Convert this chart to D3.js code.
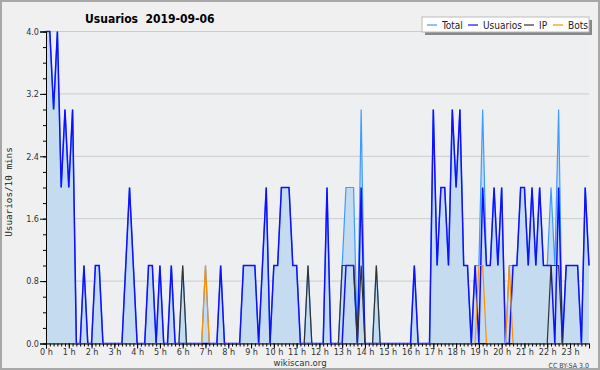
<!DOCTYPE html>
<html>
<head>
<meta charset="utf-8">
<script src="https://cdn.jsdelivr.net/npm/d3@7"></script>
<style>
  body { margin: 0; background: #f0f0f0; }
  svg text { font-family: "DejaVu Sans Condensed", "DejaVu Sans", sans-serif; font-stretch: condensed; }
  svg text.mono { font-family: "DejaVu Sans Mono", monospace; font-stretch: normal; }
</style>
</head>
<body>
<div id="chart"></div>
<script>
// 10-minute slots, 0:00 .. 23:50
const hourLabels = d3.range(24).map(h => h + " h");
const yTicks = [0, 0.8, 1.6, 2.4, 3.2, 4.0];

const total = [
  4,4,3,4,2,3,2,3,0,0,1,0,
  0,1,1,0,0,0,0,0,0,1,2,1,
  0,0,0,1,1,0,1,0,0,1,0,0,
  1,0,0,0,0,0,1,0,0,0,1,0,
  0,0,0,0,1,1,1,1,0,1,2,0,
  1,1,2,2,2,1,1,0,0,1,0,0,
  0,0,2,0,0,0,1,2,2,2,0,3,
  0,0,0,1,0,0,0,0,0,0,0,0,
  0,1,0,0,0,0,3,1,2,2,1,3,
  2,3,1,1,0,1,1,3,1,1,2,1,
  2,0,1,1,1,2,2,1,2,1,2,1,
  1,2,1,3,0,1,1,1,1,0,2,1
];
const usuarios = [
  4,4,3,4,2,3,2,3,0,0,1,0,
  0,1,1,0,0,0,0,0,0,1,2,1,
  0,0,0,1,1,0,1,0,0,1,0,0,
  0,0,0,0,0,0,0,0,0,0,1,0,
  0,0,0,0,1,1,1,1,0,1,2,0,
  1,1,2,2,2,1,1,0,0,0,0,0,
  0,0,2,0,0,0,0,1,1,1,0,2,
  0,0,0,0,0,0,0,0,0,0,0,0,
  0,1,0,0,0,0,3,1,2,2,1,3,
  2,3,1,1,0,1,0,2,1,1,2,1,
  2,0,0,1,1,2,2,1,2,1,2,1,
  1,1,0,2,0,1,1,1,1,0,2,1
];
const ip = [
  0,0,0,0,0,0,0,0,0,0,0,0,
  0,0,0,0,0,0,0,0,0,0,0,0,
  0,0,0,0,0,0,0,0,0,0,0,0,
  1,0,0,0,0,0,0,0,0,0,0,0,
  0,0,0,0,0,0,0,0,0,0,0,0,
  0,0,0,0,0,0,0,0,0,1,0,0,
  0,0,0,0,0,0,1,1,1,1,0,1,
  0,0,0,1,0,0,0,0,0,0,0,0,
  0,0,0,0,0,0,0,0,0,0,0,0,
  0,0,0,0,0,0,0,0,0,0,0,0,
  0,0,0,0,0,0,0,0,0,0,0,0,
  0,1,1,1,0,0,0,0,0,0,0,0
];
const bots = [
  0,0,0,0,0,0,0,0,0,0,0,0,
  0,0,0,0,0,0,0,0,0,0,0,0,
  0,0,0,0,0,0,0,0,0,0,0,0,
  0,0,0,0,0,0,1,0,0,0,0,0,
  0,0,0,0,0,0,0,0,0,0,0,0,
  0,0,0,0,0,0,0,0,0,0,0,0,
  0,0,0,0,0,0,0,0,0,0,0,0,
  0,0,0,0,0,0,0,0,0,0,0,0,
  0,0,0,0,0,0,0,0,0,0,0,0,
  0,0,0,0,0,0,1,1,0,0,0,0,
  0,0,1,0,0,0,0,0,0,0,0,0,
  0,0,0,0,0,0,0,0,0,0,0,0
];

const series = [
  { name: "Total", values: total, color: "#3d9bff", width: 1.2 },
  { name: "Usuarios", values: usuarios, color: "#1010ff", width: 1.5 },
  { name: "IP", values: ip, color: "#333333", width: 1.2 },
  { name: "Bots", values: bots, color: "#ff9000", width: 1.2 }
];

const W = 600, H = 370;
const margin = { top: 31.5, right: 11, bottom: 26.5, left: 46 };
const width = W - margin.left - margin.right;
const height = H - margin.top - margin.bottom;

const svg = d3.select("#chart").append("svg")
  .attr("width", W)
  .attr("height", H);

svg.append("rect")
  .attr("x", 1).attr("y", 1)
  .attr("width", W - 2).attr("height", H - 2)
  .attr("fill", "#f0f0f0")
  .attr("stroke", "#a8a8a8")
  .attr("stroke-width", 2);

const g = svg.append("g")
  .attr("transform", `translate(${margin.left},${margin.top})`);

const x = d3.scaleLinear().domain([0, total.length - 1]).range([0, width]);
const y = d3.scaleLinear().domain([0, 4]).range([height, 0]);

g.append("rect")
  .attr("width", width).attr("height", height)
  .attr("fill", "#eeeff1");

// grid
g.selectAll(".grid")
  .data(yTicks.filter(d => d > 0))
  .enter().append("line")
  .attr("x1", 0).attr("x2", width)
  .attr("y1", d => y(d)).attr("y2", d => y(d))
  .attr("stroke", "#cccccc");

// total area
g.append("path")
  .datum(total)
  .attr("fill", "#c5dcf0")
  .attr("d", d3.area().x((d, i) => x(i)).y0(height).y1(d => y(d)));

const line = d3.line().x((d, i) => x(i)).y(d => y(d));
series.forEach(s => {
  g.append("path")
    .datum(s.values)
    .attr("fill", "none")
    .attr("stroke", s.color)
    .attr("stroke-width", s.width)
    .attr("stroke-linejoin", "miter")
    .attr("d", line);
});

// y axis
const yAxis = g.append("g")
  .call(d3.axisLeft(y).tickValues(yTicks).tickFormat(d3.format(".1f")).tickSize(6).tickPadding(1));
g.append("g")
  .call(d3.axisLeft(y).tickValues(d3.range(0, 4.01, 0.2)).tickSize(3).tickFormat(""))
  .select(".domain").remove();
yAxis.selectAll("text").attr("font-size", 9).attr("fill", "#333");

// x axis
const xAxis = g.append("g")
  .attr("transform", `translate(0,${height})`)
  .call(d3.axisBottom(x).tickValues(d3.range(0, total.length, 6))
    .tickFormat((d, i) => hourLabels[i]).tickSize(5).tickPadding(0));
g.append("g")
  .attr("transform", `translate(0,${height})`)
  .call(d3.axisBottom(x).tickValues(d3.range(0, total.length)).tickSize(3).tickFormat(""))
  .select(".domain").remove();
xAxis.selectAll("text").attr("font-size", 9).attr("fill", "#333");
svg.selectAll(".domain").attr("stroke", "#000");

// titles
svg.append("text")
  .attr("x", 85).attr("y", 23)
  .attr("font-size", 12).attr("font-weight", "bold")
  .style("white-space", "pre")
  .text("Usuarios  2019-09-06");

svg.append("text")
  .attr("class", "mono")
  .attr("transform", "translate(12,192) rotate(-90)")
  .attr("text-anchor", "middle")
  .attr("font-size", 9.3).attr("fill", "#222")
  .text("Usuarios/10 mins");

svg.append("text")
  .attr("x", 300).attr("y", 366)
  .attr("text-anchor", "middle")
  .attr("font-size", 9.5).attr("fill", "#333")
  .text("wikiscan.org");

svg.append("text")
  .attr("x", 589).attr("y", 368)
  .attr("text-anchor", "end")
  .attr("font-size", 7).attr("fill", "#444")
  .text("CC BY-SA 3.0");

// legend
const lg = svg.append("g").attr("transform", "translate(422,17)");
lg.append("rect").attr("x", 3).attr("y", 3).attr("width", 167).attr("height", 15).attr("fill", "#888");
lg.append("rect").attr("width", 167).attr("height", 15).attr("fill", "#fff").attr("stroke", "#bbb");
const legendX = [5, 46, 102, 131];
series.forEach((s, i) => {
  lg.append("line")
    .attr("x1", legendX[i]).attr("x2", legendX[i] + 10)
    .attr("y1", 8).attr("y2", 8)
    .attr("stroke", s.color).attr("stroke-width", 1.2);
  lg.append("text")
    .attr("x", legendX[i] + 15).attr("y", 11.5)
    .attr("font-size", 10).attr("fill", "#222")
    .text(s.name);
});
</script>
</body>
</html>
